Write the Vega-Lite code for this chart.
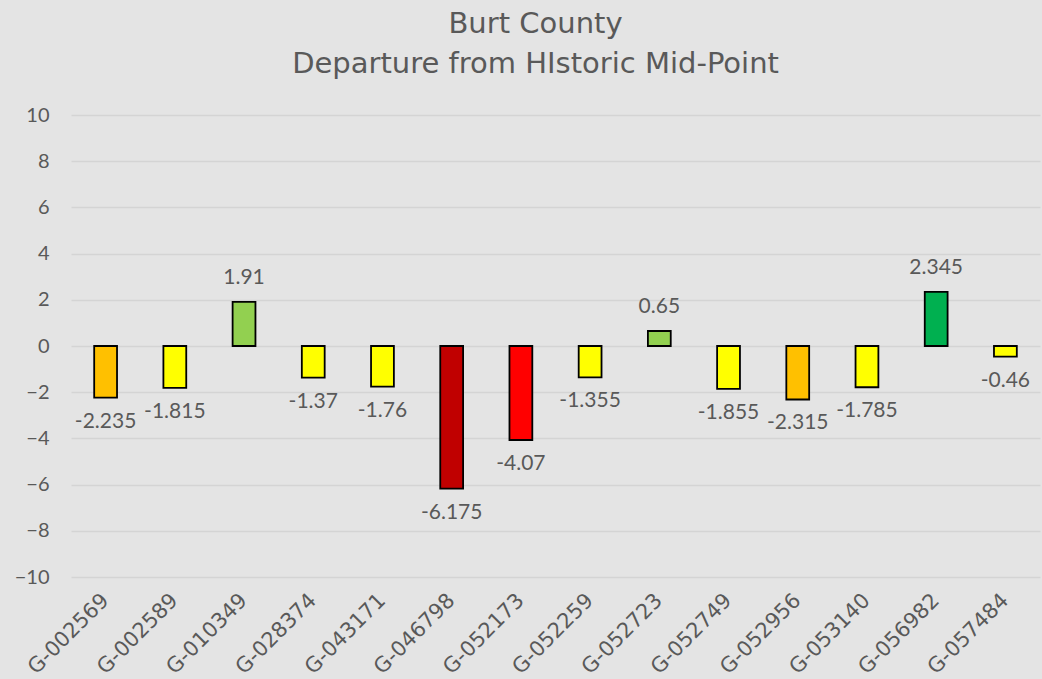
{
  "$schema": "https://vega.github.io/schema/vega-lite/v6.json",
  "autosize": {"type": "none"},
  "padding": {"left": 71, "top": 115, "right": 2, "bottom": 102},
  "width": 969,
  "height": 462,
  "background": "#e4e4e4",
  "title": {
    "text": ["Burt County", "Departure from HIstoric Mid-Point"],
    "font": "DejaVu Sans",
    "fontSize": 29,
    "fontWeight": "normal",
    "color": "#595959",
    "lineHeight": 40,
    "anchor": "middle",
    "dx": -20,
    "offset": 26
  },
  "config": {
    "view": {"stroke": null},
    "axis": {"labelFont": "Lato", "labelColor": "#595959", "domain": false, "ticks": false, "title": null}
  },
  "data": {
    "values": [
      {"well": "G-002569", "value": -2.235, "label": "-2.235", "color": "#FFC000"},
      {"well": "G-002589", "value": -1.815, "label": "-1.815", "color": "#FFFF00"},
      {"well": "G-010349", "value": 1.91, "label": "1.91", "color": "#92D050"},
      {"well": "G-028374", "value": -1.37, "label": "-1.37", "color": "#FFFF00"},
      {"well": "G-043171", "value": -1.76, "label": "-1.76", "color": "#FFFF00"},
      {"well": "G-046798", "value": -6.175, "label": "-6.175", "color": "#C00000"},
      {"well": "G-052173", "value": -4.07, "label": "-4.07", "color": "#FF0000"},
      {"well": "G-052259", "value": -1.355, "label": "-1.355", "color": "#FFFF00"},
      {"well": "G-052723", "value": 0.65, "label": "0.65", "color": "#92D050"},
      {"well": "G-052749", "value": -1.855, "label": "-1.855", "color": "#FFFF00"},
      {"well": "G-052956", "value": -2.315, "label": "-2.315", "color": "#FFC000"},
      {"well": "G-053140", "value": -1.785, "label": "-1.785", "color": "#FFFF00"},
      {"well": "G-056982", "value": 2.345, "label": "2.345", "color": "#00B050"},
      {"well": "G-057484", "value": -0.46, "label": "-0.46", "color": "#FFFF00"}
    ]
  },
  "encoding": {
    "x": {
      "field": "well",
      "type": "nominal",
      "sort": null,
      "scale": {"paddingInner": 0.67},
      "axis": {"labelAngle": -45, "labelAlign": "right", "labelBaseline": "middle", "labelFont": "DejaVu Sans", "labelFontSize": 21, "labelPadding": 20, "grid": false}
    }
  },
  "layer": [
    {
      "mark": {"type": "bar", "stroke": "#000000", "strokeWidth": 1.8},
      "encoding": {
        "y": {
          "field": "value",
          "type": "quantitative",
          "scale": {"domain": [-10, 10]},
          "axis": {"values": [-10, -8, -6, -4, -2, 0, 2, 4, 6, 8, 10], "labelFontSize": 20, "labelPadding": 22, "gridColor": "#d4d4d4", "gridWidth": 1.5}
        },
        "fill": {"field": "color", "type": "nominal", "scale": null}
      }
    },
    {
      "transform": [{"filter": "datum.value >= 0"}],
      "mark": {"type": "text", "font": "Lato", "fontSize": 21, "color": "#595959", "baseline": "middle", "dy": -24},
      "encoding": {
        "y": {"field": "value", "type": "quantitative"},
        "text": {"field": "label"}
      }
    },
    {
      "transform": [{"filter": "datum.value < 0"}],
      "mark": {"type": "text", "font": "Lato", "fontSize": 21, "color": "#595959", "baseline": "middle", "dy": 24},
      "encoding": {
        "y": {"field": "value", "type": "quantitative"},
        "text": {"field": "label"}
      }
    }
  ]
}
